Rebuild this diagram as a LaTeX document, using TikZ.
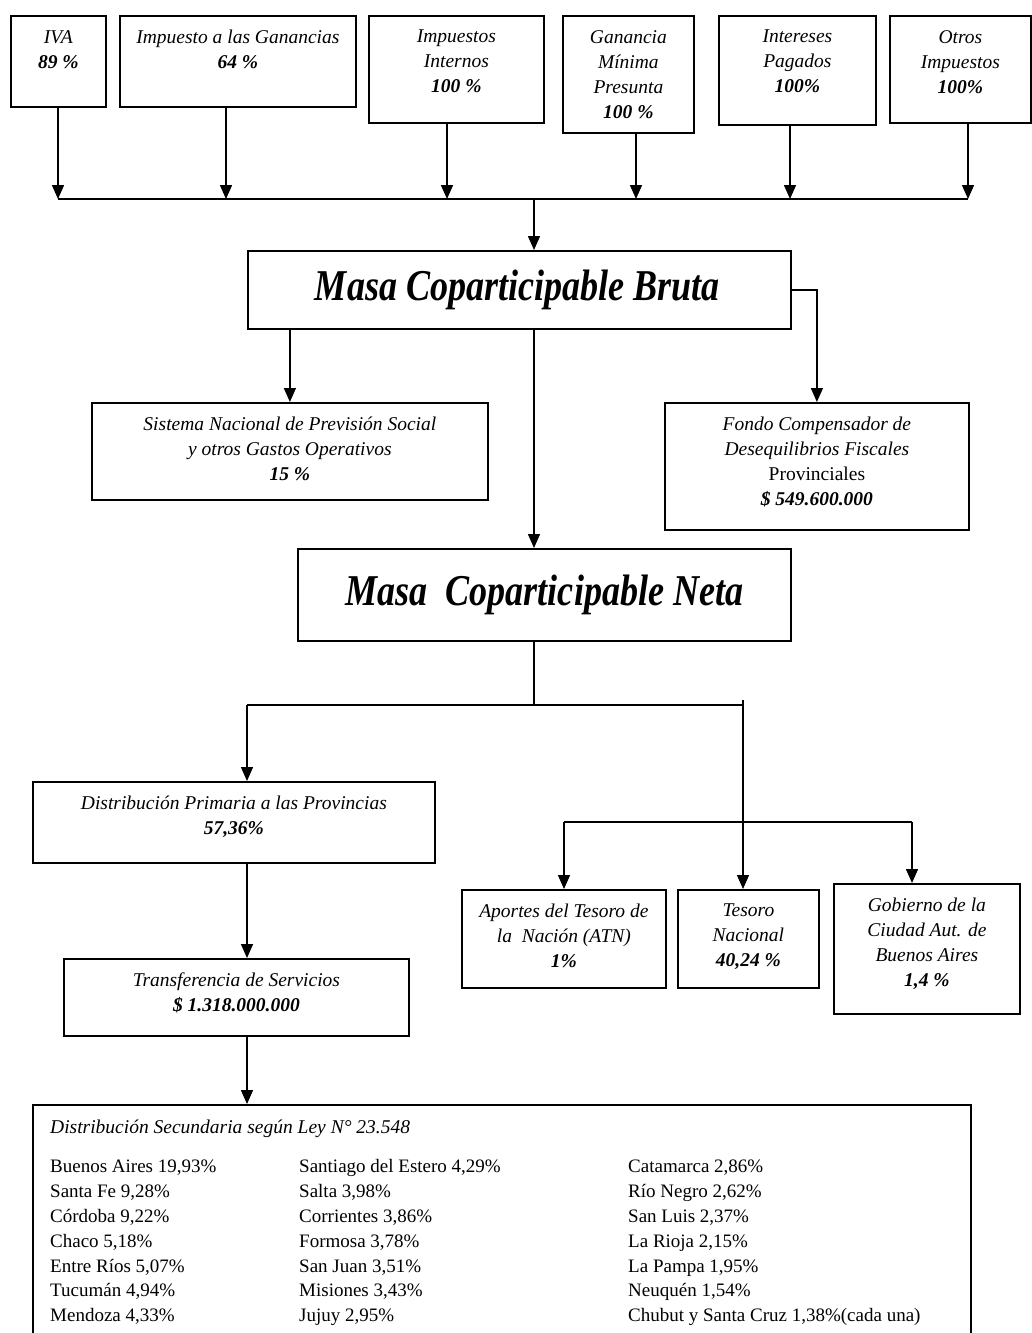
\documentclass[tikz,border=0pt]{standalone}
\usepackage{fontspec}
\setmainfont{Liberation Serif}
\usetikzlibrary{arrows.meta}
\newcommand{\boxfont}{\fontsize{19.5}{25}\selectfont\itshape}
\newcommand{\listfont}{\fontsize{19}{24.85}\selectfont}
\newcommand{\masa}[1]{\scalebox{0.82}[1]{\fontsize{44}{50}\selectfont\bfseries\itshape #1}}
\tikzset{
  box/.style={draw, line width=1.8pt, anchor=north west, inner sep=0pt},
  txt/.style={anchor=north, align=center, inner sep=0pt, font=\boxfont},
  link/.style={line width=1.5pt},
  arr/.style={link, -{Triangle[width=12pt,length=14pt]}},
  prov/.style={anchor=north west, inner sep=0pt, align=left, font=\listfont}
}

\begin{document}
\begin{tikzpicture}[x=1pt, y=-1pt]
        \useasboundingbox (0,0) rectangle (1032,1333);
        \node[box, minimum width=95pt, minimum height=91pt] (iva) at (10,15) {};
        \node[box, minimum width=236pt, minimum height=91pt] (gan) at (119,15) {};
        \node[box, minimum width=175pt, minimum height=107pt] (intern) at (368,15) {};
        \node[box, minimum width=131pt, minimum height=117pt] (gmp) at (562,15) {};
        \node[box, minimum width=157pt, minimum height=109pt] (inter) at (718,15) {};
        \node[box, minimum width=141pt, minimum height=107pt] (otros) at (889,15) {};
        \node[box, minimum width=543pt, minimum height=78pt] (bruta) at (247,250) {};
        \node[box, minimum width=396pt, minimum height=97pt] (snps) at (91,402) {};
        \node[box, minimum width=304pt, minimum height=127pt] (fondo) at (664,402) {};
        \node[box, minimum width=493pt, minimum height=92pt] (neta) at (297,548) {};
        \node[box, minimum width=402pt, minimum height=81pt] (prim) at (32,781) {};
        \node[box, minimum width=345pt, minimum height=77pt] (transf) at (63,958) {};
        \node[box, minimum width=204pt, minimum height=98pt] (atn) at (461,889) {};
        \node[box, minimum width=141pt, minimum height=98pt] (tesoro) at (677,889) {};
        \node[box, minimum width=186pt, minimum height=130pt] (caba) at (833,883) {};
        \node[box, minimum width=938pt, minimum height=250pt] (sec) at (32,1104) {};

        \node[txt] at ([yshift=-15pt]iva.north) {IVA\\\textbf{89 \%}};
        \node[txt] at ([yshift=-15pt]gan.north) {Impuesto a las Ganancias\\\textbf{64 \%}};
        \node[txt] at ([yshift=-15pt]intern.north) {Impuestos\\Internos\\\textbf{100 \%}};
        \node[txt] at ([yshift=-15pt]gmp.north) {Ganancia\\Mínima\\Presunta\\\textbf{100 \%}};
        \node[txt] at ([yshift=-15pt]inter.north) {Intereses\\Pagados\\\textbf{100\%}};
        \node[txt] at ([yshift=-15pt]otros.north) {Otros\\Impuestos\\\textbf{100\%}};
        \node[inner sep=0pt] at ([xshift=-2pt]bruta.center) {\masa{Masa Coparticipable Bruta}};
        \node[txt] at ([yshift=-15pt]snps.north) {Sistema Nacional de Previsión Social\\y otros Gastos Operativos\\\textbf{15 \%}};
        \node[txt] at ([yshift=-15pt]fondo.north) {Fondo Compensador de\\Desequilibrios Fiscales\\\upshape Provinciales\\\textbf{\$ 549.600.000}};
        \node[inner sep=0pt] at (neta.center) {\masa{Masa\ \ Coparticipable Neta}};
        \node[txt] at ([yshift=-15pt]prim.north) {Distribución Primaria a las Provincias\\\textbf{57,36\%}};
        \node[txt] at ([yshift=-15pt]transf.north) {Transferencia de Servicios\\\textbf{\$ 1.318.000.000}};
        \node[txt] at ([yshift=-15pt]atn.north) {Aportes del Tesoro de\\la\ \ Nación (ATN)\\\textbf{1\%}};
        \node[txt] at ([yshift=-15pt]tesoro.north) {Tesoro\\Nacional\\\textbf{40,24 \%}};
        \node[txt] at ([yshift=-15pt]caba.north) {Gobierno de la\\Ciudad Aut. de\\Buenos Aires\\\textbf{1,4 \%}};

        \node[anchor=north west, inner sep=0pt, font=\boxfont] (sectit) at (50,1120) {Distribución Secundaria según Ley N° 23.548};
        \node[prov] (col1) at (50,1155) {\strut Buenos Aires 19,93\%\\Santa Fe 9,28\%\\Córdoba 9,22\%\\Chaco 5,18\%\\Entre Ríos 5,07\%\\Tucumán 4,94\%\\Mendoza 4,33\%};
        \node[prov] (col2) at (299,1155) {\strut Santiago del Estero 4,29\%\\Salta 3,98\%\\Corrientes 3,86\%\\Formosa 3,78\%\\San Juan 3,51\%\\Misiones 3,43\%\\Jujuy 2,95\%};
        \node[prov] (col3) at (628,1155) {\strut Catamarca 2,86\%\\Río Negro 2,62\%\\San Luis 2,37\%\\La Rioja 2,15\%\\La Pampa 1,95\%\\Neuquén 1,54\%\\Chubut y Santa Cruz 1,38\%(cada una)};

        \coordinate (j1) at (58,199);
        \coordinate (j2) at (226,199);
        \coordinate (j3) at (447,199);
        \coordinate (j4) at (636,199);
        \coordinate (j5) at (790,199);
        \coordinate (j6) at (968,199);
        \coordinate (bar) at (534,199);
        \coordinate (split) at (534,705);
        \coordinate (sl) at (247,705);
        \coordinate (sr) at (743,705);
        \coordinate (tl) at (564,822);
        \coordinate (tr) at (912,822);

        \draw[arr] (iva.south -| j1) -- (j1);
        \draw[arr] (gan.south -| j2) -- (j2);
        \draw[arr] (intern.south -| j3) -- (j3);
        \draw[arr] (gmp.south -| j4) -- (j4);
        \draw[arr] (inter.south -| j5) -- (j5);
        \draw[arr] (otros.south -| j6) -- (j6);
        \draw[link] (j1) -- (j6);
        \draw[arr] (bar) -- (bar |- bruta.north);
        \draw[arr] (bruta.south -| snps.north) -- (snps.north);
        \draw[arr] (bruta.east) -| (fondo.north);
        \draw[arr] (bruta.south -| bar) -- (neta.north -| bar);
        \draw[link] (neta.south -| split) -- (split);
        \draw[link] (sl) -- (sr);
        \draw[arr] (sl) -- (sl |- prim.north);
        \draw[arr] ([yshift=5pt]sr) -- (sr |- tesoro.north);
        \draw[link] (tl) -- (tr);
        \draw[arr] (tl) -- (tl |- atn.north);
        \draw[arr] (tr) -- (tr |- caba.north);
        \draw[arr] (prim.south -| sl) -- (transf.north -| sl);
        \draw[arr] (transf.south -| sl) -- (sec.north -| sl);
\end{tikzpicture}
\end{document}
